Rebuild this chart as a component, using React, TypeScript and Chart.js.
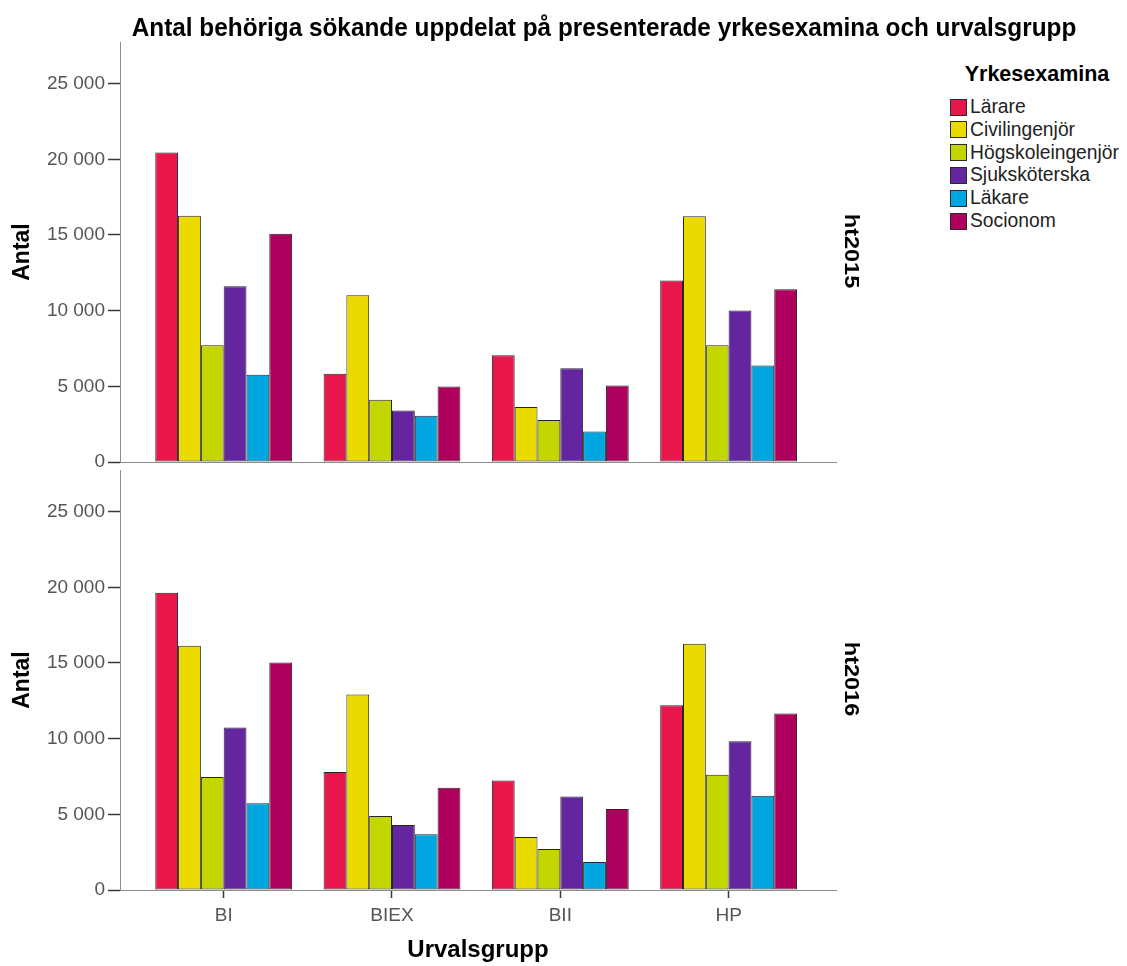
import React, { useEffect, useLayoutEffect, useRef, useState } from 'react';
import { Chart, registerables } from 'chart.js';

Chart.register(...registerables);

// ---- data ----
const categories = ['BI', 'BIEX', 'BII', 'HP'];
const seriesNames = ['Lärare', 'Civilingenjör', 'Högskoleingenjör', 'Sjuksköterska', 'Läkare', 'Socionom'];
const seriesColors = ['#E9164C', '#EBDA00', '#C4D600', '#6426A0', '#00A6E0', '#B0005E'];
const yTicks = [0, 5000, 10000, 15000, 20000, 25000];
const panelNames = ['ht2015', 'ht2016'];

// values per category: BI, BIEX, BII, HP
const ht2015Larare = [20450, 5830, 7060, 12000];
const ht2015Civilingenjor = [16270, 11010, 3630, 16230];
const ht2015Hogskoleingenjor = [7720, 4110, 2770, 7720];
const ht2015Sjukskoterska = [11610, 3410, 6200, 10010];
const ht2015Lakare = [5760, 3060, 2020, 6380];
const ht2015Socionom = [15080, 4990, 5060, 11410];

const ht2016Larare = [19640, 7800, 7230, 12210];
const ht2016Civilingenjor = [16140, 12920, 3500, 16270];
const ht2016Hogskoleingenjor = [7470, 4890, 2710, 7610];
const ht2016Sjukskoterska = [10730, 4300, 6170, 9830];
const ht2016Lakare = [5730, 3680, 1850, 6220];
const ht2016Socionom = [15030, 6750, 5360, 11660];

const panel2015 = [ht2015Larare, ht2015Civilingenjor, ht2015Hogskoleingenjor, ht2015Sjukskoterska, ht2015Lakare, ht2015Socionom];
const panel2016 = [ht2016Larare, ht2016Civilingenjor, ht2016Hogskoleingenjor, ht2016Sjukskoterska, ht2016Lakare, ht2016Socionom];

const FONT = 'Arial, "Liberation Sans", Helvetica, sans-serif';
const Y_MAX = 27750;
const X_MIN = -0.616;
const X_MAX = 3.638;

const fmt = (v: number) => String(v).replace(/\B(?=(\d{3})+(?!\d))/g, '\u00a0');

function makeConfig(panel: number[][], isBottom: boolean): any {
  return {
    type: 'bar',
    data: {
      datasets: seriesNames.map((name, k) => ({
        label: name,
        data: panel[k].map((v, i) => ({ x: i, y: v })),
        backgroundColor: seriesColors[k],
        borderColor: '#262626',
        borderWidth: 1,
        borderSkipped: false,
        categoryPercentage: 0.813,
        barPercentage: 1,
      })),
    },
    options: {
      animation: false,
      responsive: false,
      maintainAspectRatio: false,
      layout: { padding: { left: 0, right: 64, top: isBottom ? 20 : 42, bottom: 0 } },
      plugins: {
        legend: { display: false },
        title: { display: false },
        tooltip: { enabled: false },
      },
      scales: {
        x: {
          type: 'linear',
          min: X_MIN,
          max: X_MAX,
          offset: false,
          afterBuildTicks: (s: any) => {
            s.ticks = categories.map((_, i) => ({ value: i }));
          },
          afterFit: (s: any) => {
            s.height = isBottom ? 76 : 15;
          },
          border: { display: true, color: '#8c8c8c', width: 1 },
          grid: {
            offset: false,
            drawOnChartArea: false,
            drawTicks: isBottom,
            tickLength: 8,
            tickColor: '#3a3a3a',
            tickWidth: 1.5,
          },
          ticks: {
            display: isBottom,
            padding: 6,
            color: '#555',
            font: { family: FONT, size: 19 },
            maxRotation: 0,
            autoSkip: false,
            callback: (v: number) => categories[v] ?? '',
          },
          title: {
            display: isBottom,
            text: 'Urvalsgrupp',
            color: '#000',
            font: { family: FONT, size: 24, weight: 'bold' },
            padding: { top: 0, bottom: 1 },
          },
        },
        y: {
          min: 0,
          max: Y_MAX,
          afterBuildTicks: (s: any) => {
            s.ticks = yTicks.map((v) => ({ value: v }));
          },
          afterFit: (s: any) => {
            s.width = 120;
          },
          border: { display: true, color: '#8c8c8c', width: 1 },
          grid: {
            drawOnChartArea: false,
            drawTicks: true,
            tickLength: 12,
            tickColor: '#3a3a3a',
            tickWidth: 1.5,
          },
          ticks: {
            padding: 3,
            color: '#555',
            font: { family: FONT, size: 19 },
            callback: (v: number) => fmt(v),
          },
          title: {
            display: true,
            text: 'Antal',
            color: '#000',
            font: { family: FONT, size: 23, weight: 'bold' },
            padding: { top: 9, bottom: 0 },
          },
        },
      },
    },
  };
}

function FitText(props: { text: string; cx: number; cy: number; width: number; font: string; rotate?: number; color?: string }) {
  const { text, cx, cy, width, font, rotate = 0, color = '#000' } = props;
  const ref = useRef<HTMLSpanElement>(null);
  const [k, setK] = useState(1);
  useLayoutEffect(() => {
    if (ref.current) {
      const w = ref.current.offsetWidth;
      if (w) setK(width / w);
    }
  }, [text, width, font]);
  return (
    <span
      ref={ref}
      style={{
        position: 'absolute',
        left: cx,
        top: cy,
        whiteSpace: 'nowrap',
        font,
        lineHeight: 1.15,
        color,
        transformOrigin: 'center center',
        transform: `translate(-50%, -50%) rotate(${rotate}deg) scaleX(${k})`,
      }}
    >
      {text}
    </span>
  );
}

function Panel(props: { panel: number[][]; isBottom: boolean; top: number; height: number }) {
  const ref = useRef<HTMLCanvasElement>(null);
  useEffect(() => {
    if (!ref.current) return;
    const chart = new Chart(ref.current, makeConfig(props.panel, props.isBottom));
    return () => chart.destroy();
  }, []);
  return (
    <canvas
      ref={ref}
      width={900}
      height={props.height}
      style={{ position: 'absolute', left: 0, top: props.top, width: 900, height: props.height, display: 'block' }}
    />
  );
}

export default function App() {
  return (
    <div style={{ position: 'absolute', left: 0, top: 0, width: 1127, height: 966, background: '#fff', overflow: 'hidden', fontFamily: FONT }}>
      <Panel panel={panel2015} isBottom={false} top={0} height={477} />
      <Panel panel={panel2016} isBottom={true} top={450} height={516} />
      <FitText
        text="Antal behöriga sökande uppdelat på presenterade yrkesexamina och urvalsgrupp"
        cx={604}
        cy={28}
        width={945}
        font={`bold 26px ${FONT}`}
      />
      <FitText text={panelNames[0]} cx={851} cy={251} width={74} font={`bold 20px ${FONT}`} rotate={90} />
      <FitText text={panelNames[1]} cx={851} cy={679} width={74} font={`bold 20px ${FONT}`} rotate={90} />
      <div
        style={{
          position: 'absolute',
          left: 1037,
          top: 74,
          transform: 'translate(-50%, -50%)',
          font: `bold 21.5px ${FONT}`,
          color: '#000',
          whiteSpace: 'nowrap',
        }}
      >
        Yrkesexamina
      </div>
      {seriesNames.map((name, k) => (
        <div
          key={name}
          style={{ position: 'absolute', left: 950, top: 107 + k * 22.8 - 11, height: 22, display: 'flex', alignItems: 'center' }}
        >
          <div
            style={{
              width: 17,
              height: 17,
              boxSizing: 'border-box',
              background: seriesColors[k],
              border: '1px solid #2a2a2a',
              marginRight: 3,
            }}
          />
          <span style={{ font: `19.3px ${FONT}`, color: '#222', whiteSpace: 'nowrap' }}>{name}</span>
        </div>
      ))}
    </div>
  );
}
